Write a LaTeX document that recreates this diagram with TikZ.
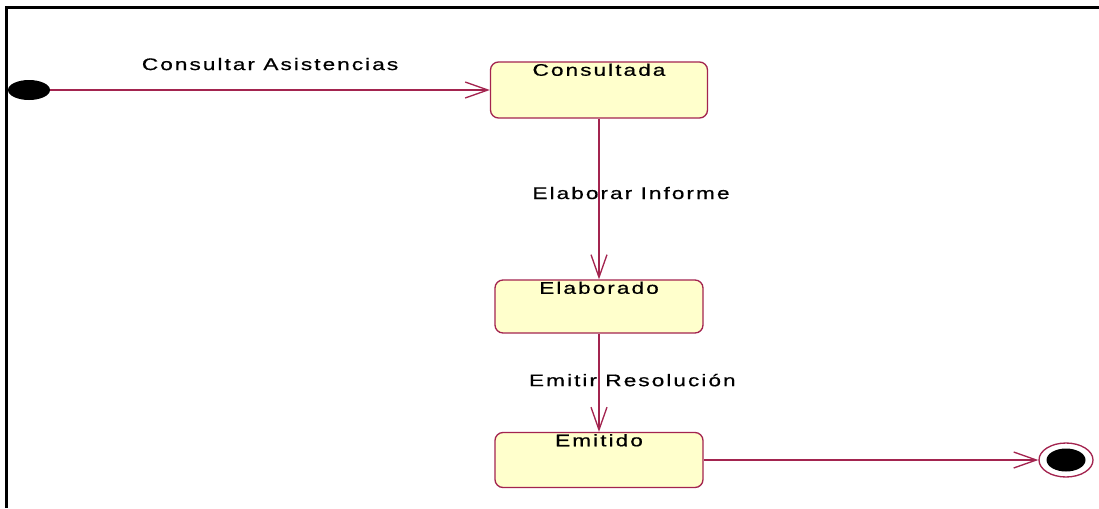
\documentclass[tikz,border=0pt]{standalone}
\usepackage{fontspec}
\setmainfont{Liberation Sans}[FakeStretch=1.35,LetterSpace=12,FakeBold=0.6]
\usepackage{tikz}
\usetikzlibrary{arrows.meta,shapes.geometric}

\definecolor{umlred}{HTML}{A3244F}
\definecolor{umlfill}{HTML}{FFFFCC}

\tikzset{
  state/.style={rectangle,rounded corners=6pt,draw=umlred,fill=umlfill,line width=1pt},
  statename/.style={anchor=north,inner sep=0pt,yshift=-1.5pt},
  trans/.style={draw=umlred,line width=1pt}
}

\begin{document}
\begin{tikzpicture}[x=0.75pt,y=-0.75pt,>={Straight Barb[length=17pt,width=12pt]},font=\fontsize{12.6}{15}\selectfont]
  \useasboundingbox (0,0) rectangle (1099,508);
  \draw[line width=1.6pt] (6.5,508) -- (6.5,7.5) -- (1099,7.5); % frame

  \node[ellipse,fill=black,minimum width=31.5pt,minimum height=15pt,inner sep=0pt] (1) at (29,90) {}; % start
  \node[state,minimum width=162.75pt,minimum height=42pt,label={[statename]north:Consultada}] (2) at (599,90) {};
  \node[state,minimum width=156pt,minimum height=39.75pt,label={[statename]north:Elaborado}] (3) at (599,306.5) {};
  \node[state,minimum width=156pt,minimum height=41.25pt,label={[statename]north:Emitido}] (4) at (599,460) {};
  \node[ellipse,draw=umlred,line width=1pt,minimum width=40.5pt,minimum height=25.5pt,inner sep=0pt,
        path picture={\fill (path picture bounding box.center) ellipse (19.5 and 11.5);}] (5) at (1066,460) {}; % end

  \draw[trans,->] (1) to node[above=11pt]{Consultar Asistencias} (2);
  \draw[trans,->] (2) to node[xshift=24pt,yshift=4.5pt]{Elaborar Informe} (3);
  \draw[trans,->] (3) to node[xshift=25pt,yshift=2pt]{Emitir Resolución} (4);
  \draw[trans,->] (4) to (5);

\end{tikzpicture}
\end{document}
